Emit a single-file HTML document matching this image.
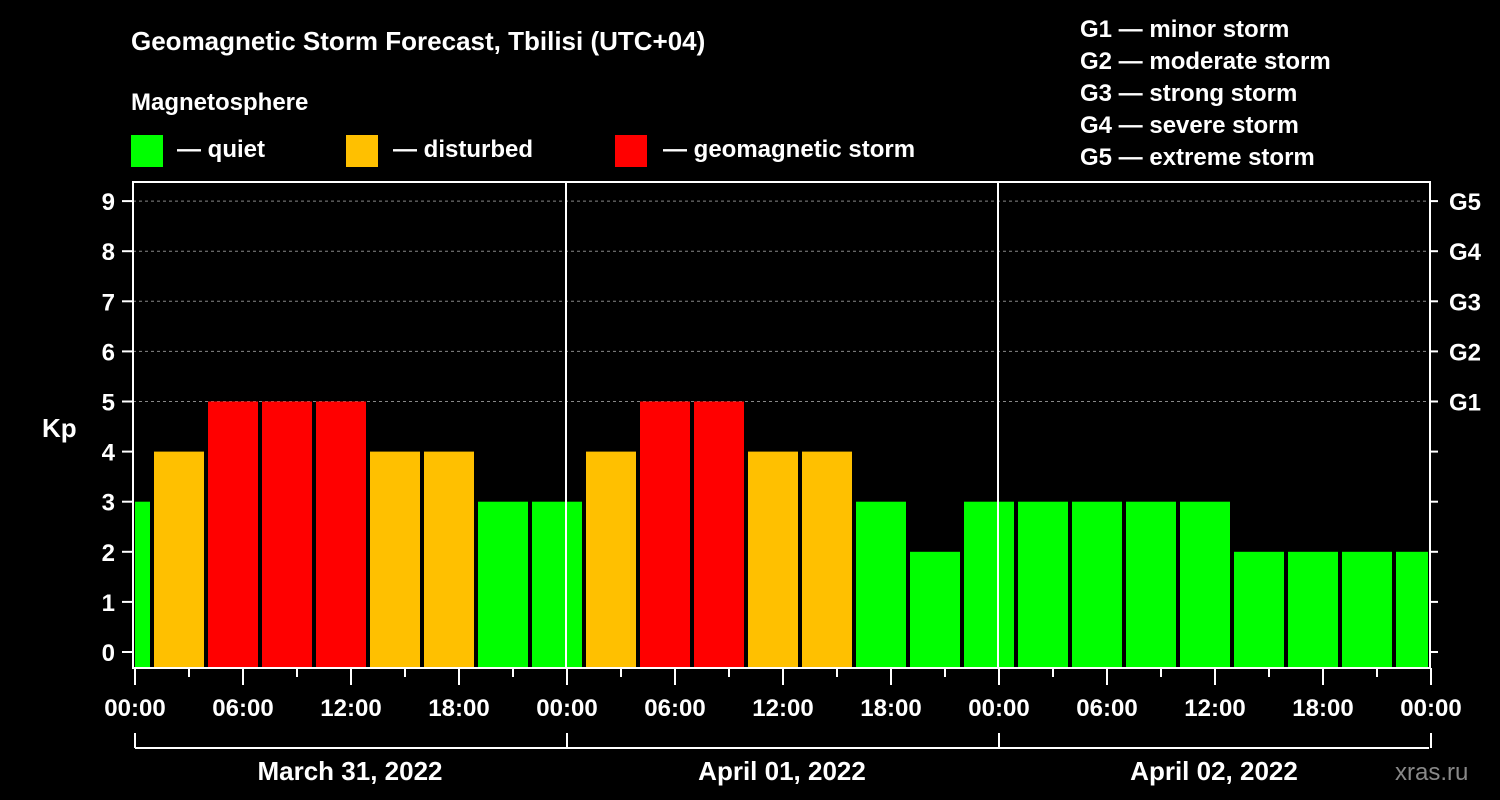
<!DOCTYPE html>
<html><head><meta charset="utf-8"><style>
body{margin:0;background:#000;}
svg{display:block;font-family:"Liberation Sans",sans-serif;font-weight:bold;}
</style></head><body>
<svg id="c" width="1500" height="800" viewBox="0 0 1500 800">
<rect width="1500" height="800" fill="#000"/>
<text x="131" y="50" fill="#fff" font-size="26">Geomagnetic Storm Forecast, Tbilisi (UTC+04)</text>
<text x="131" y="110" fill="#fff" font-size="24">Magnetosphere</text>
<g><rect x="131" y="135" width="32" height="32" fill="#00ff00"/><text x="177" y="157" fill="#fff" font-size="24">— quiet</text></g>
<g><rect x="346" y="135" width="32" height="32" fill="#ffc000"/><text x="393" y="157" fill="#fff" font-size="24">— disturbed</text></g>
<g><rect x="615" y="135" width="32" height="32" fill="#ff0000"/><text x="663" y="157" fill="#fff" font-size="24">— geomagnetic storm</text></g>
<g fill="#fff" font-size="24">
<text x="1080" y="37">G1 — minor storm</text><text x="1080" y="69">G2 — moderate storm</text><text x="1080" y="101">G3 — strong storm</text><text x="1080" y="133">G4 — severe storm</text><text x="1080" y="165">G5 — extreme storm</text></g>
<text x="42" y="437" fill="#fff" font-size="26">Kp</text>
<text x="1395" y="780" fill="#888" font-size="24" font-weight="normal">xras.ru</text>
<g id="plot"></g>
</svg>
<script>
const startHours=[-2,1,4,7,10,13,16,19,22,25,28,31,34,37,40,43,46,49,52,55,58,61,64,67,70];
const kpValues=[3,4,5,5,5,4,4,3,3,4,5,5,4,4,3,2,3,3,3,3,3,2,2,2,2];
const yTicks=[0,1,2,3,4,5,6,7,8,9];
const gLabels=['G1','G2','G3','G4','G5'];
const xLabels=['00:00','06:00','12:00','18:00','00:00','06:00','12:00','18:00','00:00','06:00','12:00','18:00','00:00'];
const dayLabels=['March 31, 2022','April 01, 2022','April 02, 2022'];
const NS='http://www.w3.org/2000/svg';
const X0=134,PX=18,TOTAL=72,L=133,R=1430,T=182,B=668;
const x=h=>X0+h*PX;
const y=v=>652-v*50.1;
const g=document.getElementById('plot');
function mk(t,a,p){const e=document.createElementNS(NS,t);for(const k in a)e.setAttribute(k,a[k]);(p||g).appendChild(e);return e;}
function col(v){return v>=5?'#ff0000':v>=4?'#ffc000':'#00ff00';}
// grid
for(let v=5;v<=9;v++){const e=mk('line',{x1:L,x2:R,y1:y(v),y2:y(v),stroke:'#888','stroke-dasharray':'3,3','stroke-width':1});

}
// bars
startHours.forEach((s,i)=>{
let a=Math.max(x(s)+2,L+2),b=Math.min(x(s+3)-2,R-2);
const r=mk('rect',{x:a,y:y(kpValues[i]),width:b-a,height:B-y(kpValues[i]),fill:col(kpValues[i])});


});
// day separators
[1,2].forEach(d=>{const e=mk('line',{x1:x(d*24),x2:x(d*24),y1:T,y2:B,stroke:'#fff','stroke-width':2});

});
// frame
const fr=mk('rect',{x:L,y:T,width:R-L,height:B-T,fill:'none',stroke:'#fff','stroke-width':2});


// y ticks
yTicks.forEach(v=>{
mk('line',{x1:122,x2:L,y1:y(v),y2:y(v),stroke:'#fff','stroke-width':2});
mk('line',{x1:R,x2:R+8,y1:y(v),y2:y(v),stroke:'#fff','stroke-width':2});
const t=mk('text',{x:115,y:y(v)+9,fill:'#fff','font-size':24,'text-anchor':'end'});t.textContent=v;


});
gLabels.forEach((s,i)=>{const t=mk('text',{x:1449,y:y(5+i)+9,fill:'#fff','font-size':24});t.textContent=s;

});
// x ticks
for(let h=0;h<=TOTAL;h+=3){const maj=h%6==0;mk('line',{x1:x(h)+1,x2:x(h)+1,y1:B,y2:B+(maj?17:9),stroke:'#fff','stroke-width':2});}
xLabels.forEach((s,i)=>{const t=mk('text',{x:x(i*6)+1,y:716,fill:'#fff','font-size':24,'text-anchor':'middle'});t.textContent=s;

});
// date brackets
mk('line',{x1:x(0)+1,x2:x(72)-1,y1:748,y2:748,stroke:'#fff','stroke-width':2});
for(let d=0;d<=3;d++)mk('line',{x1:x(d*24)+1,x2:x(d*24)+1,y1:733,y2:748,stroke:'#fff','stroke-width':2});
dayLabels.forEach((s,i)=>{const t=mk('text',{x:x(i*24+12),y:780,fill:'#fff','font-size':26,'text-anchor':'middle'});t.textContent=s;

});
</script>
</body></html>
